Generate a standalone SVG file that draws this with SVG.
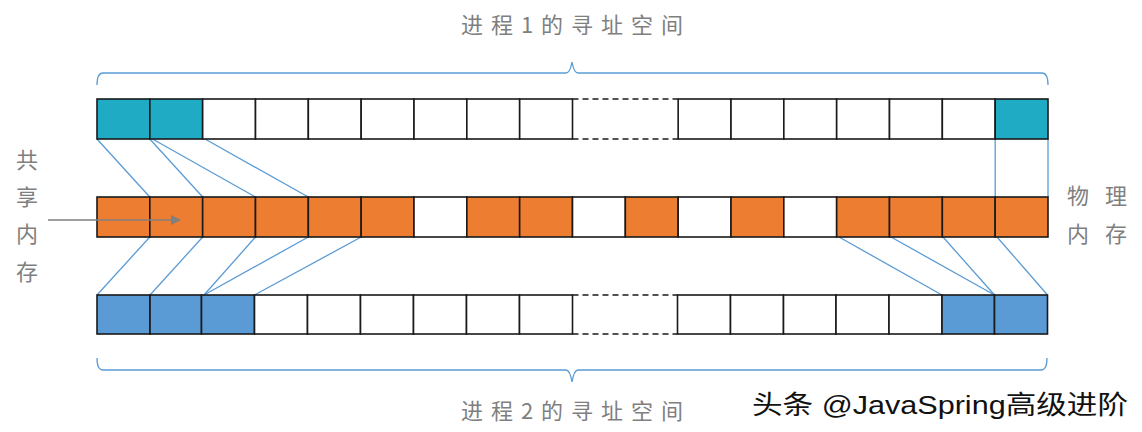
<svg xmlns="http://www.w3.org/2000/svg" width="1142" height="432" viewBox="0 0 1142 432">
<defs>
<style>
.c{stroke:#1a1a1a;stroke-width:1.6}
.w{fill:#ffffff}
.t{fill:#1FABC4}
.o{fill:#ED7D31}
.b{fill:#5B9BD5}
.dash{stroke:#1a1a1a;stroke-width:1.6;stroke-dasharray:6 4;fill:none}
.conn{stroke:#5B9BD5;stroke-width:1.3;fill:none}
.lbl{font-family:"Noto Sans CJK SC","Noto Sans",sans-serif;fill:#7f7f7f;font-size:22px}
.wm{font-family:"Liberation Sans","Noto Sans CJK SC",sans-serif;fill:#111;font-size:26px}
</style>
<marker id="ah" markerWidth="10" markerHeight="10" refX="9" refY="5" orient="auto" markerUnits="userSpaceOnUse">
<path d="M0,0 L10,5 L0,10 Z" fill="#7f7f7f"/>
</marker>
</defs>
<rect width="1142" height="432" fill="#ffffff"/>

<g id="bracket-top">
<path class="conn" d="M97 85 Q97 73 103 73 L566 73 Q570 73 572 62 Q574 73 578 73 L1042 73 Q1048 73 1048 85"/>
</g>
<g id="bracket-bottom">
<path class="conn" d="M97 358 Q97 370 103 370 L566 370 Q570 370 572 382 Q574 370 578 370 L1041 370 Q1047 370 1047 358"/>
</g>

<g id="connectors">
<path class="conn" d="M97 139 L149.8 197"/>
<path class="conn" d="M149.8 139 L202.7 197"/>
<path class="conn" d="M152.5 139 L255.5 197"/>
<path class="conn" d="M205 139 L308.3 197"/>
<path class="conn" d="M995.2 139 L995.2 197"/>
<path class="conn" d="M1048 139 L1048 197"/>
<path class="conn" d="M149.8 237 L97 295"/>
<path class="conn" d="M202.7 237 L150 295"/>
<path class="conn" d="M255.5 237 L204 295"/>
<path class="conn" d="M308.3 237 L204 295"/>
<path class="conn" d="M361.2 237 L254.5 295"/>
<path class="conn" d="M839 237 L942 295"/>
<path class="conn" d="M891 237 L994.5 295"/>
<path class="conn" d="M943 237 L994.5 295"/>
<path class="conn" d="M997 237 L1047.5 295"/>
</g>

<g id="process1">
<rect class="c t" x="97" y="99" width="52.83" height="40"/>
<rect class="c t" x="149.83" y="99" width="52.84" height="40"/>
<rect class="c w" x="202.67" y="99" width="52.83" height="40"/>
<rect class="c w" x="255.5" y="99" width="52.83" height="40"/>
<rect class="c w" x="308.33" y="99" width="52.84" height="40"/>
<rect class="c w" x="361.17" y="99" width="52.83" height="40"/>
<rect class="c w" x="414" y="99" width="52.83" height="40"/>
<rect class="c w" x="466.83" y="99" width="52.84" height="40"/>
<rect class="c w" x="519.67" y="99" width="52.83" height="40"/>
<path class="dash" d="M572.5 99 L678.17 99 M572.5 139 L678.17 139"/>
<rect class="c w" x="678.17" y="99" width="52.83" height="40"/>
<rect class="c w" x="731" y="99" width="52.83" height="40"/>
<rect class="c w" x="783.83" y="99" width="52.84" height="40"/>
<rect class="c w" x="836.67" y="99" width="52.83" height="40"/>
<rect class="c w" x="889.5" y="99" width="52.83" height="40"/>
<rect class="c w" x="942.33" y="99" width="52.84" height="40"/>
<rect class="c t" x="995.17" y="99" width="52.83" height="40"/>
</g>

<g id="physical-memory">
<rect class="c o" x="97" y="197" width="52.83" height="40"/>
<rect class="c o" x="149.83" y="197" width="52.84" height="40"/>
<rect class="c o" x="202.67" y="197" width="52.83" height="40"/>
<rect class="c o" x="255.5" y="197" width="52.83" height="40"/>
<rect class="c o" x="308.33" y="197" width="52.84" height="40"/>
<rect class="c o" x="361.17" y="197" width="52.83" height="40"/>
<rect class="c w" x="414" y="197" width="52.83" height="40"/>
<rect class="c o" x="466.83" y="197" width="52.84" height="40"/>
<rect class="c o" x="519.67" y="197" width="52.83" height="40"/>
<rect class="c w" x="572.5" y="197" width="52.83" height="40"/>
<rect class="c o" x="625.33" y="197" width="52.84" height="40"/>
<rect class="c w" x="678.17" y="197" width="52.83" height="40"/>
<rect class="c o" x="731" y="197" width="52.83" height="40"/>
<rect class="c w" x="783.83" y="197" width="52.84" height="40"/>
<rect class="c o" x="836.67" y="197" width="52.83" height="40"/>
<rect class="c o" x="889.5" y="197" width="52.83" height="40"/>
<rect class="c o" x="942.33" y="197" width="52.84" height="40"/>
<rect class="c o" x="995.17" y="197" width="52.83" height="40"/>
</g>

<g id="process2">
<rect class="c b" x="97" y="295" width="53" height="39"/>
<rect class="c b" x="150" y="295" width="51.5" height="39"/>
<rect class="c b" x="201.5" y="295" width="53" height="39"/>
<rect class="c w" x="254.5" y="295" width="53" height="39"/>
<rect class="c w" x="307.5" y="295" width="53" height="39"/>
<rect class="c w" x="360.5" y="295" width="53" height="39"/>
<rect class="c w" x="413.5" y="295" width="53" height="39"/>
<rect class="c w" x="466.5" y="295" width="53" height="39"/>
<rect class="c w" x="519.5" y="295" width="53" height="39"/>
<path class="dash" d="M572.5 295 L677.5 295 M572.5 334 L677.5 334"/>
<rect class="c w" x="677.5" y="295" width="53" height="39"/>
<rect class="c w" x="730.5" y="295" width="53" height="39"/>
<rect class="c w" x="783.5" y="295" width="52.5" height="39"/>
<rect class="c w" x="836" y="295" width="53" height="39"/>
<rect class="c w" x="889" y="295" width="53" height="39"/>
<rect class="c b" x="942" y="295" width="52.5" height="39"/>
<rect class="c b" x="994.5" y="295" width="53" height="39"/>
</g>

<g id="label-process1">
<text class="lbl" x="576" y="33" text-anchor="middle" letter-spacing="8">进程1的寻址空间</text>
</g>
<g id="label-process2">
<text class="lbl" x="576" y="419" text-anchor="middle" letter-spacing="8">进程2的寻址空间</text>
</g>
<g id="label-shared">
<text class="lbl" x="27" y="168" text-anchor="middle">共</text>
<text class="lbl" x="27" y="205" text-anchor="middle">享</text>
<text class="lbl" x="27" y="242" text-anchor="middle">内</text>
<text class="lbl" x="27" y="280" text-anchor="middle">存</text>
<path d="M48 220 L180 220" stroke="#7f7f7f" stroke-width="1.5" fill="none" marker-end="url(#ah)"/>
</g>
<g id="label-physical">
<text class="lbl" x="1067" y="204" letter-spacing="16">物理</text>
<text class="lbl" x="1067" y="242" letter-spacing="16">内存</text>
</g>
<g id="watermark">
<text class="wm" x="752" y="414" textLength="376" lengthAdjust="spacingAndGlyphs">头条 @JavaSpring高级进阶</text>
</g>
</svg>
